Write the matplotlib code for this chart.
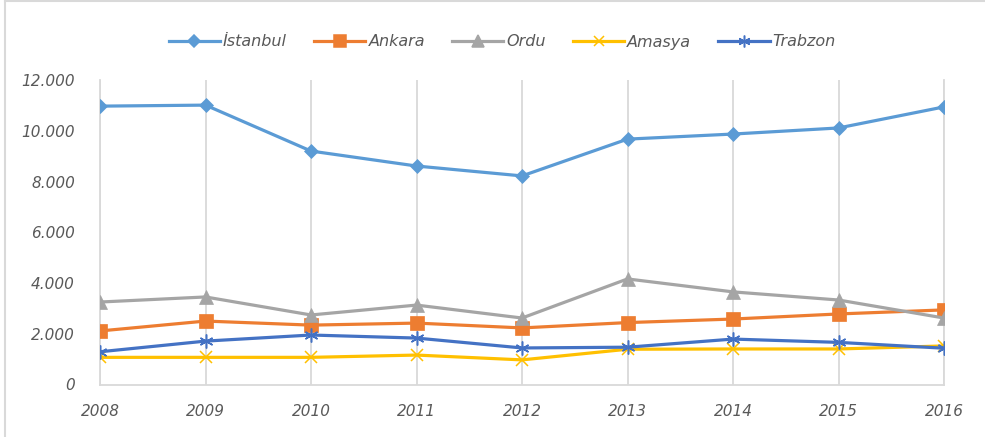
import matplotlib.pyplot as plt
from matplotlib.lines import Line2D

years = [2008, 2009, 2010, 2011, 2012, 2013, 2014, 2015, 2016]
istanbul = [10970, 11010, 9200, 8610, 8220, 9670, 9870, 10110, 10940]
ankara = [2110, 2500, 2340, 2420, 2230, 2440, 2580, 2780, 2940]
ordu = [3250, 3450, 2740, 3130, 2620, 4160, 3650, 3330, 2620]
amasya = [1070, 1070, 1070, 1160, 970, 1390, 1400, 1400, 1520]
trabzon = [1290, 1710, 1950, 1830, 1440, 1470, 1790, 1660, 1430]
yticks = [0, 2000, 4000, 6000, 8000, 10000, 12000]
ylabels = ["0", "2.000", "4.000", "6.000", "8.000", "10.000", "12.000"]

series = [
    ("İstanbul", istanbul, "#5B9BD5", "D", 7),
    ("Ankara", ankara, "#ED7D31", "s", 9.5),
    ("Ordu", ordu, "#A5A5A5", "^", 9.5),
    ("Amasya", amasya, "#FFC000", "x", 9),
    ("Trabzon", trabzon, "#4472C4", (6, 2, 0), 10),
]

W, H = 985, 437
fig = plt.figure(figsize=(W / 100, H / 100), dpi=100)
ax = fig.add_axes([100 / W, 1 - 384.5 / H, (944 - 100) / W, (384.5 - 80) / H])

for name, vals, col, mk, ms in series:
    ax.plot(years, vals, color=col, lw=2.3, marker=mk, markersize=ms,
            markeredgewidth=1.1 if mk in ("x", (6, 2, 0)) else 0.5,
            markeredgecolor=col, label=name, zorder=3)

ax.set_xlim(2008, 2016)
ax.set_ylim(0, 12000)
ax.set_xticks(years)
ax.set_yticks(yticks)
ax.set_yticklabels(ylabels)
ax.grid(True, axis="x", color="#D9D9D9", lw=1.3)
ax.grid(False, axis="y")
ax.spines["top"].set_visible(False)
for s in ax.spines.values():
    s.set_color("#D9D9D9")
    s.set_linewidth(1.3)
ax.tick_params(length=0)
ax.tick_params(axis="y", pad=18)
ax.tick_params(axis="x", pad=14)
for lab in ax.get_xticklabels() + ax.get_yticklabels():
    lab.set_fontstyle("italic")
    lab.set_color("#595959")
    lab.set_fontsize(11)

handles = [Line2D([], [], color=c, lw=2.3, marker=m, markersize=ms * 0.85,
                  markeredgecolor=c, markeredgewidth=1.1)
           for _, _, c, m, ms in series]
leg = fig.legend(handles, [s[0] for s in series], loc="center",
                 bbox_to_anchor=(0.51, 1 - 42 / H), ncol=5, frameon=False,
                 handlelength=3.2, handletextpad=0.2, columnspacing=1.7,
                 prop={"style": "italic", "size": 11.5})
for t in leg.get_texts():
    t.set_color("#595959")

# outer chart border
fig.add_artist(Line2D([5 / W, 5 / W], [0, 1 - 1 / H], color="#D9D9D9", lw=1.5,
                      transform=fig.transFigure))
fig.add_artist(Line2D([5 / W, 1], [1 - 1 / H, 1 - 1 / H], color="#D9D9D9", lw=1.5,
                      transform=fig.transFigure))

fig.savefig("out.png", dpi=100)
